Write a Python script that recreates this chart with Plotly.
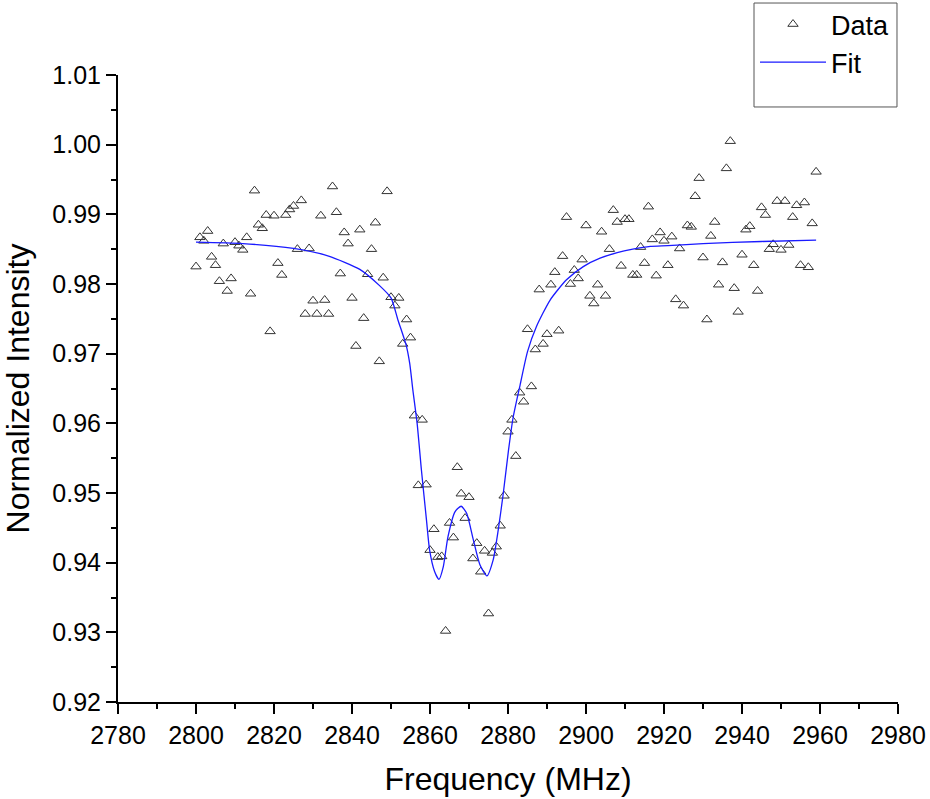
import plotly.graph_objects as go

# ---- data ----
freq = list(range(2800, 2960))
intensity = [
    0.9825, 0.9867, 0.9862, 0.9876, 0.9839, 0.9827, 0.9804, 0.9858, 0.9790, 0.9808,
    0.9860, 0.9855, 0.9849, 0.9867, 0.9786, 0.9934, 0.9885, 0.9880, 0.9899, 0.9732,
    0.9898, 0.9830, 0.9813, 0.9899, 0.9907, 0.9912, 0.9850, 0.9920, 0.9757, 0.9851,
    0.9776, 0.9757, 0.9898, 0.9777, 0.9757, 0.9940, 0.9903, 0.9815, 0.9874, 0.9858,
    0.9780, 0.9711, 0.9878, 0.9751, 0.9814, 0.9850, 0.9888, 0.9689, 0.9809, 0.9933,
    0.9781, 0.9769, 0.9780, 0.9714, 0.9749, 0.9723, 0.9611, 0.9511, 0.9605, 0.9512,
    0.9418, 0.9448, 0.9408, 0.9409, 0.9302, 0.9457, 0.9436, 0.9537, 0.9499, 0.9464,
    0.9494, 0.9406, 0.9428, 0.9387, 0.9417, 0.9327, 0.9414, 0.9423, 0.9453, 0.9496,
    0.9588, 0.9605, 0.9553, 0.9644, 0.9631, 0.9735, 0.9653, 0.9706, 0.9792, 0.9714,
    0.9728, 0.9799, 0.9817, 0.9733, 0.9840, 0.9896, 0.9800, 0.9820, 0.9808, 0.9835,
    0.9884, 0.9783, 0.9772, 0.9799, 0.9875, 0.9783, 0.9850, 0.9906, 0.9889, 0.9826,
    0.9893, 0.9893, 0.9813, 0.9813, 0.9853, 0.9830, 0.9911, 0.9864, 0.9812, 0.9874,
    0.9862, 0.9827, 0.9868, 0.9778, 0.9851, 0.9769, 0.9884, 0.9882, 0.9926, 0.9952,
    0.9838, 0.9749, 0.9869, 0.9889, 0.9799, 0.9831, 0.9966, 1.0005, 0.9794, 0.9760,
    0.9842, 0.9878, 0.9883, 0.9827, 0.9790, 0.9910, 0.9899, 0.9850, 0.9857, 0.9919,
    0.9849, 0.9919, 0.9856, 0.9896, 0.9913, 0.9827, 0.9917, 0.9824, 0.9887, 0.9961,
]

fit_freq = [
    2800, 2812, 2825, 2834, 2842, 2847, 2850, 2851.8, 2853.9, 2854.8,
    2855.6, 2856.7, 2857.8, 2859.1, 2859.9, 2861.2, 2862.3, 2863.4, 2864.6, 2866.4,
    2868.0, 2869.4, 2871.1, 2872.8, 2874.6, 2876.2, 2877.5, 2878.8, 2880.1, 2881.3,
    2883.1, 2885.0, 2887.3, 2890.8, 2895.0, 2899.3, 2903.6, 2908.0, 2912.0, 2916.5,
    2921.0, 2930.0, 2945.0, 2959.0,
]
fit_intensity = [
    0.9860, 0.9858, 0.9851, 0.9840, 0.9821, 0.9798, 0.9780, 0.9748, 0.9712, 0.9686,
    0.9648, 0.9600, 0.9533, 0.9461, 0.9418, 0.9387, 0.9376, 0.9394, 0.9437, 0.9473,
    0.9481, 0.9471, 0.9433, 0.9397, 0.9381, 0.9404, 0.9447, 0.9500, 0.9560, 0.9608,
    0.9655, 0.9703, 0.9739, 0.9777, 0.9806, 0.9825, 0.9837, 0.9845, 0.9850, 0.9854,
    0.9855, 0.9858, 0.9861, 0.9863,
]

x_ticks = list(range(2780, 2981, 20))
y_ticks = [0.92, 0.93, 0.94, 0.95, 0.96, 0.97, 0.98, 0.99, 1.00, 1.01]
y_tick_labels = ["0.92", "0.93", "0.94", "0.95", "0.96", "0.97", "0.98", "0.99", "1.00", "1.01"]

FONT = "Liberation Sans, Arial, sans-serif"

fig = go.Figure()
fig.add_trace(go.Scatter(
    x=freq, y=intensity, mode="markers", name="Data",
    marker=dict(symbol="triangle-up-open", size=9, color="#333333",
                line=dict(width=1, color="#333333")),
))
fig.add_trace(go.Scatter(
    x=fit_freq, y=fit_intensity, mode="lines", name="Fit",
    line=dict(color="#1a1aff", width=1.3, shape="spline", smoothing=0.6),
))

axis_common = dict(
    showline=True, linecolor="black", linewidth=2,
    ticks="outside", ticklen=10, tickwidth=2, tickcolor="black",
    showgrid=False, zeroline=False, mirror=False, automargin=False,
    tickfont=dict(family=FONT, size=25, color="black"),
)

fig.update_xaxes(
    range=[2780, 2980], tickvals=x_ticks,
    minor=dict(ticks="outside", ticklen=5, tickwidth=2, tickcolor="black", dtick=10, tick0=2780),
    title=dict(text="Frequency (MHz)", font=dict(family=FONT, size=32, color="black"), standoff=20),
    **axis_common,
)
fig.update_yaxes(
    range=[0.92, 1.01], tickvals=y_ticks, ticktext=y_tick_labels,
    minor=dict(ticks="outside", ticklen=5, tickwidth=2, tickcolor="black", dtick=0.005, tick0=0.92),
    title=dict(text="Normalized Intensity", font=dict(family=FONT, size=32, color="black"), standoff=14),
    **axis_common,
)

fig.update_layout(
    width=930, height=799,
    margin=dict(l=118, r=32, t=75, b=97, autoexpand=False),
    paper_bgcolor="white", plot_bgcolor="white",
    font=dict(family=FONT, color="black"),
    legend=dict(
        xref="container", yref="container",
        x=755 / 930, xanchor="left", y=1.006, yanchor="top",
        bgcolor="rgba(0,0,0,0)", borderwidth=0,
        font=dict(family=FONT, size=27, color="black"),
        itemwidth=66, tracegroupgap=0,
    ),
    shapes=[dict(type="rect", xref="paper", yref="paper",
                 x0=0.8154, x1=0.9987, y0=0.949, y1=1.1148,
                 line=dict(color="#555555", width=1), fillcolor="rgba(0,0,0,0)")],
)

fig.write_html("out.html")
